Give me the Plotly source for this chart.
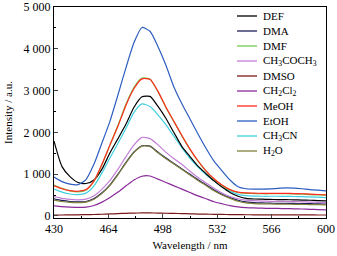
import plotly.graph_objects as go

wavelength = list(range(430, 601, 5))

DEF = [1790, 1180, 940, 800, 775, 860, 1120, 1510, 1850, 2200, 2600, 2850, 2860, 2620, 2330, 1990, 1660, 1420, 1190, 1010, 840, 690, 560, 470, 420, 405, 400, 395, 390, 388, 385, 380, 375, 368, 360]
DMA = [410, 370, 345, 335, 345, 415, 555, 745, 1000, 1280, 1530, 1680, 1670, 1525, 1385, 1255, 1125, 995, 865, 745, 620, 520, 440, 375, 335, 318, 310, 305, 302, 300, 298, 295, 292, 288, 285]
DMF = [740, 660, 600, 575, 615, 830, 1230, 1700, 2170, 2680, 3080, 3300, 3270, 2970, 2590, 2250, 1910, 1590, 1310, 1070, 880, 730, 620, 560, 540, 535, 530, 530, 530, 530, 525, 520, 510, 502, 495]
CH3COCH3 = [460, 420, 395, 385, 400, 480, 640, 850, 1120, 1420, 1700, 1880, 1850, 1700, 1520, 1370, 1230, 1070, 920, 790, 660, 550, 465, 410, 380, 365, 355, 350, 348, 345, 342, 338, 332, 326, 320]
DMSO = [20, 22, 24, 27, 30, 34, 40, 47, 55, 62, 68, 72, 72, 68, 64, 60, 55, 50, 45, 41, 38, 35, 32, 30, 28, 27, 26, 25, 25, 24, 24, 23, 23, 22, 22]
CH2Cl2 = [240, 220, 210, 205, 210, 250, 330, 440, 570, 720, 860, 950, 955, 880, 800, 720, 640, 560, 480, 410, 340, 290, 245, 215, 198, 190, 185, 180, 178, 175, 170, 165, 158, 152, 145]
MeOH = [720, 650, 605, 590, 630, 840, 1240, 1700, 2150, 2650, 3050, 3280, 3270, 2980, 2600, 2260, 1920, 1600, 1320, 1080, 890, 740, 630, 570, 550, 545, 540, 540, 540, 540, 535, 530, 520, 512, 505]
EtOH = [930, 820, 760, 748, 870, 1240, 1750, 2270, 2900, 3550, 4150, 4510, 4420, 4050, 3600, 3080, 2680, 2320, 1960, 1620, 1310, 1080, 860, 700, 650, 640, 640, 645, 660, 670, 665, 650, 630, 615, 600]
CH3CN = [640, 570, 525, 510, 545, 720, 1030, 1390, 1740, 2100, 2480, 2680, 2620, 2420, 2180, 1900, 1630, 1380, 1170, 990, 840, 700, 590, 515, 485, 475, 470, 470, 470, 468, 465, 460, 455, 448, 440]
H2O = [380, 345, 325, 318, 330, 400, 540, 730, 990, 1270, 1520, 1670, 1660, 1510, 1370, 1240, 1110, 980, 850, 730, 600, 500, 420, 350, 310, 295, 288, 285, 282, 280, 278, 275, 272, 268, 265]

names = ["DEF", "DMA", "DMF", "CH<sub>3</sub>COCH<sub>3</sub>", "DMSO", "CH<sub>2</sub>Cl<sub>2</sub>",
         "MeOH", "EtOH", "CH<sub>3</sub>CN", "H<sub>2</sub>O"]
series = [DEF, DMA, DMF, CH3COCH3, DMSO, CH2Cl2, MeOH, EtOH, CH3CN, H2O]
colors = ["#000000", "#1c1c5c", "#74c84f", "#c27ed6", "#7a1818", "#8a2a9a",
          "#ff2b1c", "#2d5ec0", "#3fcfe0", "#7f7f3c"]

x_ticks = [430, 464, 498, 532, 566, 600]
y_ticks = [0, 1000, 2000, 3000, 4000, 5000]
y_ticktext = ["0", "1 000", "2 000", "3 000", "4 000", "5 000"]

FONT = "Liberation Serif"

FIG_W, FIG_H = 337, 256
top_px, bot_px, left_px, right_px = 7, 218, 54, 326  # plot area in pixels
H = bot_px - top_px
W = right_px - left_px

fig = go.Figure()
order = [4, 5, 1, 9, 3, 8, 0, 2, 6, 7]
for i in order:
    fig.add_trace(go.Scatter(x=wavelength, y=series[i], mode="lines", name=names[i],
                             line=dict(color=colors[i], width=1.2, shape="spline", smoothing=0.6),
                             showlegend=False))

# legend drawn inside the plot, top right
leg_y0 = 16
leg_dy = 15
for k, (nm, col) in enumerate(zip(names, colors)):
    ypx = leg_y0 + k * leg_dy
    yp = (bot_px - ypx) / H
    fig.add_shape(type="line", xref="paper", yref="paper",
                  x0=(237 - left_px) / W, x1=(257 - left_px) / W, y0=yp, y1=yp,
                  line=dict(color=col, width=1.3))
    fig.add_annotation(xref="paper", yref="paper", x=(261 - left_px) / W, y=yp,
                       text=nm, showarrow=False, xanchor="left", yanchor="middle",
                       font=dict(family=FONT, size=11, color="#000000"))

fig.update_layout(
    width=FIG_W, height=FIG_H,
    margin=dict(l=left_px, r=FIG_W - right_px, t=top_px, b=FIG_H - bot_px, autoexpand=False),
    paper_bgcolor="white", plot_bgcolor="white",
    font=dict(family=FONT, size=11, color="#000000"),
    showlegend=False,
)
fig.update_xaxes(
    range=[430, 600], tickvals=x_ticks, ticks="inside", ticklen=4, tickwidth=1,
    showline=True, linecolor="#000000", linewidth=1, mirror=True, showgrid=False, zeroline=False,
    minor=dict(ticks="inside", dtick=17, tick0=430, ticklen=2, tickcolor="#000000", showgrid=False),
    title=dict(text="Wavelength / nm", font=dict(family=FONT, size=11), standoff=5),
    tickfont=dict(family=FONT, size=12), ticklabeloverflow="allow",
)
fig.update_yaxes(
    range=[-50, 5000], tickvals=y_ticks, ticktext=y_ticktext, ticks="inside", ticklen=4, tickwidth=1,
    showline=True, linecolor="#000000", linewidth=1, mirror=True, showgrid=False, zeroline=False,
    minor=dict(ticks="inside", dtick=500, tick0=0, ticklen=2, tickcolor="#000000", showgrid=False),
    title=dict(text="Intensity / a.u.", font=dict(family=FONT, size=11), standoff=8),
    tickfont=dict(family=FONT, size=12), ticklabeloverflow="allow",
)

# remove the browser's default 8px page margin so the figure fills the window
fig.write_html("out.html", config={"displayModeBar": False},
               post_script="document.body.style.margin='0px';")
